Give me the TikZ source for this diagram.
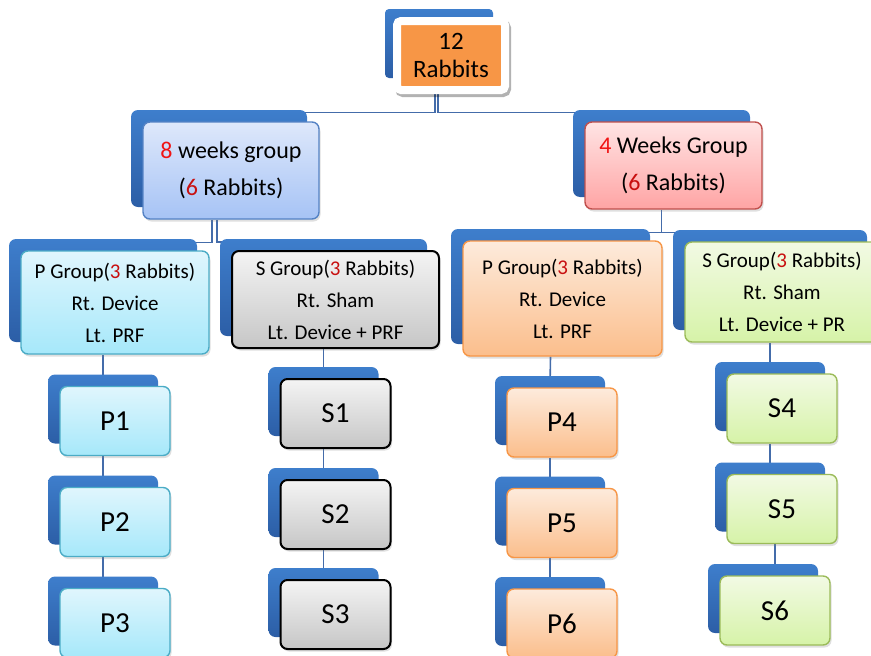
\documentclass[tikz,border=0pt]{standalone}
\usepackage{fontspec}
\setmainfont{Carlito}
\usetikzlibrary{shadows,backgrounds}

\definecolor{backtop}{RGB}{62,126,204}
\definecolor{backbot}{RGB}{44,94,166}
\definecolor{linkblue}{RGB}{68,108,170}
\definecolor{numred}{RGB}{240,20,20}
\definecolor{numdark}{RGB}{200,16,16}
\definecolor{rootorange}{RGB}{247,150,70}

\begin{document}
\begin{tikzpicture}[x=1pt, y=-1pt,
  backbox/.style={preaction={draw=none, top color=backtop, bottom color=backbot,
      transform canvas={shift={(-12,-12)}}}},
  card/.style={backbox, drop shadow={opacity=0.25, shadow xshift=1.5pt, shadow yshift=-2.5pt},
      rounded corners=7, line width=1.4, align=center, inner sep=0pt},
  link/.style={draw=linkblue, line width=1.6},
  weekbox/.style={card, font=\fontsize{24}{36.5}\selectfont},
  grpbox/.style={card, font=\fontsize{21}{32}\selectfont},
  leaf/.style={card, minimum width=110, minimum height=69, font=\fontsize{29}{31}\selectfont},
  bluecard/.style={draw={rgb,255:red,75;green,172;blue,198}, top color={rgb,255:red,224;green,246;blue,253}, bottom color={rgb,255:red,166;green,232;blue,250}},
  graycard/.style={draw=black, line width=2, top color={rgb,255:red,244;green,244;blue,244}, bottom color={rgb,255:red,198;green,198;blue,198}},
  peachcard/.style={draw=rootorange, top color={rgb,255:red,253;green,235;blue,220}, bottom color={rgb,255:red,251;green,190;blue,140}},
  greencard/.style={draw={rgb,255:red,155;green,187;blue,89}, top color={rgb,255:red,242;green,250;blue,228}, bottom color={rgb,255:red,214;green,243;blue,168}}]

  \useasboundingbox (0,0) rectangle (871,656);
  \clip (0,0) rectangle (871,656);

  % root
  \node[backbox, drop shadow={opacity=0.3, shadow xshift=2pt, shadow yshift=-3pt, draw=black, line width=8},
        fill=rootorange, draw=white, line width=8, rounded corners=4, align=center, inner sep=0pt,
        minimum width=108, minimum height=69, font=\fontsize{25}{28}\selectfont]
        (T) at (451,55.5) {12\\Rabbits};

  % week groups
  \node[weekbox, minimum width=176, minimum height=97,
        draw={rgb,255:red,84;green,130;blue,196},
        top color={rgb,255:red,222;green,232;blue,251}, bottom color={rgb,255:red,166;green,195;blue,245}]
        (W8) at (231,170.5) {{\color{numred}8} weeks group\\({\color{numdark}6} Rabbits)};
  \node[weekbox, minimum width=177, minimum height=87,
        draw={rgb,255:red,192;green,80;blue,77},
        top color={rgb,255:red,255;green,228;blue,228}, bottom color={rgb,255:red,255;green,164;blue,164}]
        (W4) at (673.5,165.5) {{\color{numred}4} Weeks Group\\({\color{numdark}6} Rabbits)};

  % sub groups
  \node[grpbox, bluecard, minimum width=188, minimum height=103] (PL) at (115,302.5)
        {P Group({\color{numdark}3} Rabbits)\\Rt. Device\\Lt. PRF};
  \node[grpbox, graycard, minimum width=207, minimum height=97] (SL) at (335.5,299.5)
        {S Group({\color{numdark}3} Rabbits)\\Rt. Sham\\Lt. Device + PRF};
  \node[grpbox, peachcard, minimum width=199, minimum height=115] (PR) at (562.5,298.5)
        {P Group({\color{numdark}3} Rabbits)\\Rt. Device\\Lt. PRF};
  \node[grpbox, greencard, minimum width=194, minimum height=100] (SR) at (782,292)
        {S Group({\color{numdark}3} Rabbits)\\Rt. Sham\\Lt. Device + PR};

  % animals
  \node[leaf, bluecard]  (P1) at (115,421)   {P1};
  \node[leaf, bluecard]  (P2) at (115,522)   {P2};
  \node[leaf, bluecard]  (P3) at (115,623)   {P3};
  \node[leaf, graycard]  (S1) at (335.5,413.5) {S1};
  \node[leaf, graycard]  (S2) at (335.5,514.5) {S2};
  \node[leaf, graycard]  (S3) at (335.5,614.5) {S3};
  \node[leaf, peachcard] (P4) at (562,422.5) {P4};
  \node[leaf, peachcard] (P5) at (562,523)   {P5};
  \node[leaf, peachcard] (P6) at (562,623.5) {P6};
  \node[leaf, greencard] (S4) at (782,408.5) {S4};
  \node[leaf, greencard] (S5) at (782,509)   {S5};
  \node[leaf, greencard] (S6) at (775,610.5) {S6};

  % connectors, behind the cards
  \begin{scope}[on background layer]
    \draw[link] ([xshift=-16]T.south) |- ([shift={(-20,-9)}]W8.north east);
    \draw[link] ([xshift=-13]T.south) |- ([shift={(-5,-9)}]W4.north west);
    \draw[link] ([xshift=-19]W8.south) |- ([shift={(-19,-8)}]PL.north east);
    \draw[link] ([xshift=-14]W8.south) |- ([shift={(-4,-8)}]SL.north west);
    \draw[link] ([xshift=-12]W4.south) |- ([shift={(-22,-8)}]PR.north east);
    \draw[link] ([xshift=-12]W4.south) |- ([shift={(-5,-9)}]SR.north west);
    \foreach \a/\b in {PL/P1,P1/P2,P2/P3,SL/S1,S1/S2,S2/S3,PR/P4,P4/P5,P5/P6,SR/S4,S4/S5}
      \draw[link] ([xshift=-12]\a.south) -- ([xshift=-12]\b.north);
    \draw[link] (S5.south -| S6.north) -- (S6.north);
  \end{scope}
\end{tikzpicture}
\end{document}
